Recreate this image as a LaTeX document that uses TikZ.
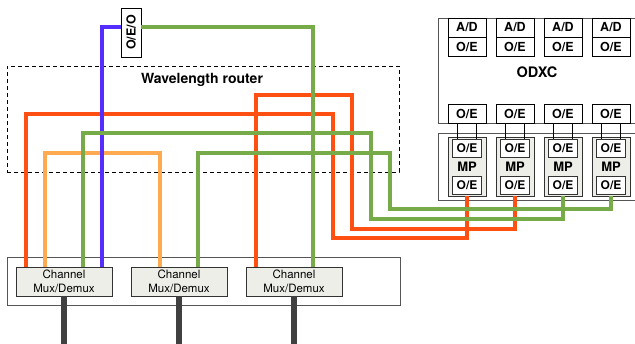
\documentclass[tikz,border=0pt]{standalone}
\usepackage{fontspec}
\setmainfont{TeX Gyre Heros}
\usepackage{xcolor}
\usetikzlibrary{positioning, calc}
\definecolor{fibrered}{RGB}{255, 80, 20}
\definecolor{fibreorange}{RGB}{255, 170, 80}
\definecolor{fibregreen}{RGB}{119, 170, 72}
\definecolor{fibreblue}{RGB}{85, 45, 255}
\definecolor{framegrey}{RGB}{85, 85, 85}
\definecolor{boxgrey}{RGB}{238, 238, 233}
\definecolor{tribdark}{RGB}{64, 64, 64}

\begin{document}
\begin{tikzpicture}[x=1pt, y=-1pt,
        frame/.style={rectangle, draw=framegrey, line width=1pt, inner sep=0pt},
        port/.style={rectangle, draw, line width=0.9pt, fill=white, minimum width=38pt, minimum height=19pt, inner sep=0pt, font=\fontsize{12.5}{14}\selectfont\bfseries},
        mpport/.style={port, draw=black!80, minimum width=29pt, minimum height=18pt, font=\fontsize{12}{14}\selectfont\bfseries},
        mpbox/.style={rectangle, draw=black!80, line width=0.9pt, fill=boxgrey, minimum width=38pt, minimum height=59pt, inner sep=0pt, font=\fontsize{13}{15}\selectfont\bfseries},
        chanbox/.style={rectangle, draw=black!80, line width=0.9pt, fill=boxgrey, minimum width=96pt, minimum height=29pt, inner sep=0pt, align=center, font=\fontsize{11.5}{13.5}\selectfont},
        title/.style={font=\fontsize{14.5}{16}\selectfont\bfseries},
        fibre/.style={draw, line width=3.6pt, line join=miter},
        trib/.style={draw=tribdark, line width=5.5pt},
        link/.style={draw, line width=1.2pt}]

        \useasboundingbox (0,0) rectangle (635,343);

        % Frames
        \node [frame, minimum width=222pt, minimum height=105pt] (odxc) at (549,70.5) {};
        \node [frame, minimum width=222pt, minimum height=67pt] (mpshelf) at (549,166.5) {};
        \node [frame, minimum width=393pt, minimum height=48pt] (muxshelf) at (203.5,281) {};
        \node [rectangle, draw, line width=0.9pt, dash pattern=on 4pt off 3pt, minimum width=392pt, minimum height=106pt] (router) at (203,119) {};

        % Nodes
        \node [title] (odxclabel) at (537,72) {ODXC};
        \node [title, font=\fontsize{14}{16}\selectfont\bfseries] (routerlabel) at (202,80) {Wavelength router};
        \node [port, minimum width=20pt, minimum height=49pt] (oeo) at (131,32.5) {\rotatebox{90}{O/E/O}};
        \foreach \i/\x in {1/467, 2/515, 3/563, 4/611} {
            \node [port] (ad\i) at (\x,27.5) {A/D};
            \node [port] (oeup\i) at (\x,46.5) {O/E};
            \node [port] (oelow\i) at (\x,114) {O/E};
            \node [mpbox] (mp\i) at (\x,166.5) {MP};
            \node [mpport] (mpin\i) at (\x,148) {O/E};
            \node [mpport] (mpout\i) at (\x,185.5) {O/E};
            \path [link] ([xshift=-9.5pt]oelow\i.south) -- ([xshift=-9.5pt]mpin\i.north);
            \path [link] ([xshift=9.5pt]oelow\i.south) -- ([xshift=9.5pt]mpin\i.north);
        }
        \node [chanbox] (chan1) at (64,281.5) {Channel\\Mux/Demux};
        \node [chanbox] (chan2) at (179,281.5) {Channel\\Mux/Demux};
        \node [chanbox] (chan3) at (294,281.5) {Channel\\Mux/Demux};

        % Fibres
        \path [fibre, fibrered] ([xshift=-38pt]chan1.north) |- (333,114) -- (333,238) -| (mp1.south);
        \path [fibre, fibrered] ([xshift=-38pt]chan3.north) |- (352,95) -- (352,229) -| (mp2.south);
        \path [fibre, fibreorange] ([xshift=-19pt]chan1.north) |- (160,153) -- ([xshift=-19pt]chan2.north);
        \path [fibre, fibreblue] ([xshift=38pt]chan1.north) |- ([yshift=5.5pt]oeo.west);
        \path [fibre, fibregreen] ([yshift=5.5pt]oeo.east) -| ([xshift=19pt]chan3.north);
        \path [fibre, fibregreen] ([xshift=19pt]chan1.north) |- (371,133) -- (371,219) -| (mp3.south);
        \path [fibre, fibregreen] ([xshift=19pt]chan2.north) |- (390,153) -- (390,209) -| (mp4.south);

        % Tributaries
        \path [trib] (chan1.south) -- ++(0,50);
        \path [trib] (chan2.south) -- ++(0,50);
        \path [trib] (chan3.south) -- ++(0,50);
\end{tikzpicture}
\end{document}
